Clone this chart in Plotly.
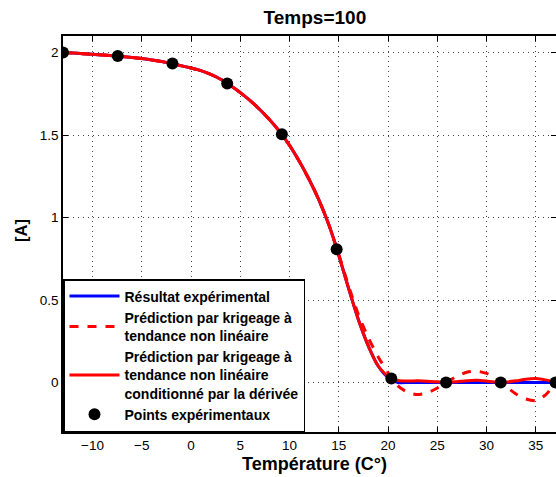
import plotly.graph_objects as go

# Experimental points
pts_x = [-13.0, -7.44, -1.89, 3.67, 9.22, 14.78, 20.33, 25.89, 31.44, 37.0]
pts_y = [2.0, 1.979, 1.933, 1.812, 1.505, 0.808, 0.024, 0.0, 0.0, 0.0]

# Common x grid for the curves
curve_x = list(range(-13, 38))

# Kriging with non-linear trend conditioned by the derivative (solid red)
kd_y = [2.000, 1.997, 1.993, 1.989, 1.985, 1.981, 1.976, 1.970, 1.963, 1.955,
        1.945, 1.933, 1.920, 1.906, 1.890, 1.867, 1.838, 1.800, 1.757, 1.708,
        1.653, 1.591, 1.520, 1.437, 1.339, 1.229, 1.104, 0.954, 0.771, 0.569,
        0.379, 0.221, 0.100, 0.035, 0.012, 0.009, 0.010, 0.008, 0.004, 0.000,
        0.005, 0.011, 0.013, 0.009, 0.003, 0.003, 0.010, 0.020, 0.024, 0.016,
        0.000]

# Experimental result (blue)
exp_y = [2.000, 1.997, 1.993, 1.989, 1.985, 1.981, 1.976, 1.970, 1.963, 1.955,
         1.945, 1.933, 1.920, 1.906, 1.890, 1.867, 1.838, 1.800, 1.757, 1.708,
         1.653, 1.591, 1.520, 1.437, 1.339, 1.229, 1.104, 0.954, 0.771, 0.569,
         0.379, 0.221, 0.100, 0.030, 0.000, 0.000, 0.000, 0.000, 0.000, 0.000,
         0.000, 0.000, 0.000, 0.000, 0.000, 0.000, 0.000, 0.000, 0.000, 0.000,
         0.000]

# Kriging with non-linear trend (dashed red)
krig_y = [2.000, 1.997, 1.993, 1.989, 1.985, 1.981, 1.976, 1.970, 1.963, 1.955,
          1.945, 1.933, 1.920, 1.906, 1.890, 1.867, 1.838, 1.800, 1.757, 1.708,
          1.653, 1.591, 1.520, 1.437, 1.339, 1.229, 1.104, 0.954, 0.775, 0.585,
          0.410, 0.270, 0.155, 0.060, -0.020, -0.060, -0.073, -0.062, -0.033, 0.004,
          0.038, 0.062, 0.069, 0.055, 0.022, -0.025, -0.070, -0.100, -0.110, -0.075,
          0.000]

x_ticks = [-10, -5, 0, 5, 10, 15, 20, 25, 30, 35]
y_ticks = [0, 0.5, 1, 1.5, 2]
y_tick_text = ["0", "0.5", "1", "1.5", "2"]

FONT = "Liberation Sans, Arial, Helvetica, sans-serif"

fig = go.Figure()
fig.add_trace(go.Scatter(x=curve_x, y=exp_y, mode="lines",
                         line=dict(color="#0000ff", width=3, shape="spline", smoothing=0.6),
                         name="<b>Résultat expérimental</b>"))
fig.add_trace(go.Scatter(x=curve_x, y=krig_y, mode="lines",
                         line=dict(color="#ff0000", width=3, dash="dash", shape="spline", smoothing=0.6),
                         name="<b>Prédiction par krigeage à<br>tendance non linéaire</b>"))
fig.add_trace(go.Scatter(x=curve_x, y=kd_y, mode="lines",
                         line=dict(color="#ff0000", width=3, shape="spline", smoothing=0.6),
                         name="<b>Prédiction par krigeage à<br>tendance non linéaire<br>conditionné par la dérivée</b>"))
fig.add_trace(go.Scatter(x=pts_x, y=pts_y, mode="markers", marker=dict(color="black", size=12),
                         name="<b>Points expérimentaux</b>"))

axis_common = dict(
    showline=True, linecolor="black", linewidth=1.5, mirror="ticks",
    ticks="inside", ticklen=5, tickcolor="black", tickwidth=1,
    showgrid=True, gridcolor="#444444", griddash="1px,4px", gridwidth=1,
    zeroline=False, automargin=False,
    tickfont=dict(family=FONT, size=13.5, color="black"),
)

fig.update_layout(
    width=556, height=477,
    margin=dict(l=63, r=0, t=36, b=45),
    paper_bgcolor="white", plot_bgcolor="white",
    font=dict(family=FONT, color="black"),
    title=dict(text="<b>Temps=100</b>", x=0.511, xref="paper", xanchor="center",
               y=1 - 17 / 477, yref="container", yanchor="middle",
               font=dict(family=FONT, size=19, color="black")),
    xaxis=dict(range=[-13, 37.05], tickvals=x_ticks, **axis_common),
    yaxis=dict(range=[-0.3, 2.1], tickvals=y_ticks, ticktext=y_tick_text, **axis_common),
    legend=dict(x=0, y=0, xanchor="left", yanchor="bottom", bgcolor="white",
                bordercolor="black", borderwidth=1.5,
                font=dict(family=FONT, size=14, color="black"), tracegroupgap=0,
                itemwidth=50, valign="middle"),
    showlegend=True,
    annotations=[
        dict(text="<b>Température (C°)</b>", x=0.511, xref="paper", y=0, yref="paper",
             xanchor="center", yanchor="middle", yshift=-32, showarrow=False,
             font=dict(family=FONT, size=18, color="black")),
        dict(text="<b>[A]</b>", x=0, xref="paper", y=(432 - 231) / 396, yref="paper",
             xanchor="center", yanchor="middle", xshift=-42, textangle=-90, showarrow=False,
             font=dict(family=FONT, size=16.5, color="black")),
    ],
)

fig.write_html("out.html", config={"displayModeBar": False},
               post_script="document.body.style.margin='0';document.body.style.overflow='hidden';")
